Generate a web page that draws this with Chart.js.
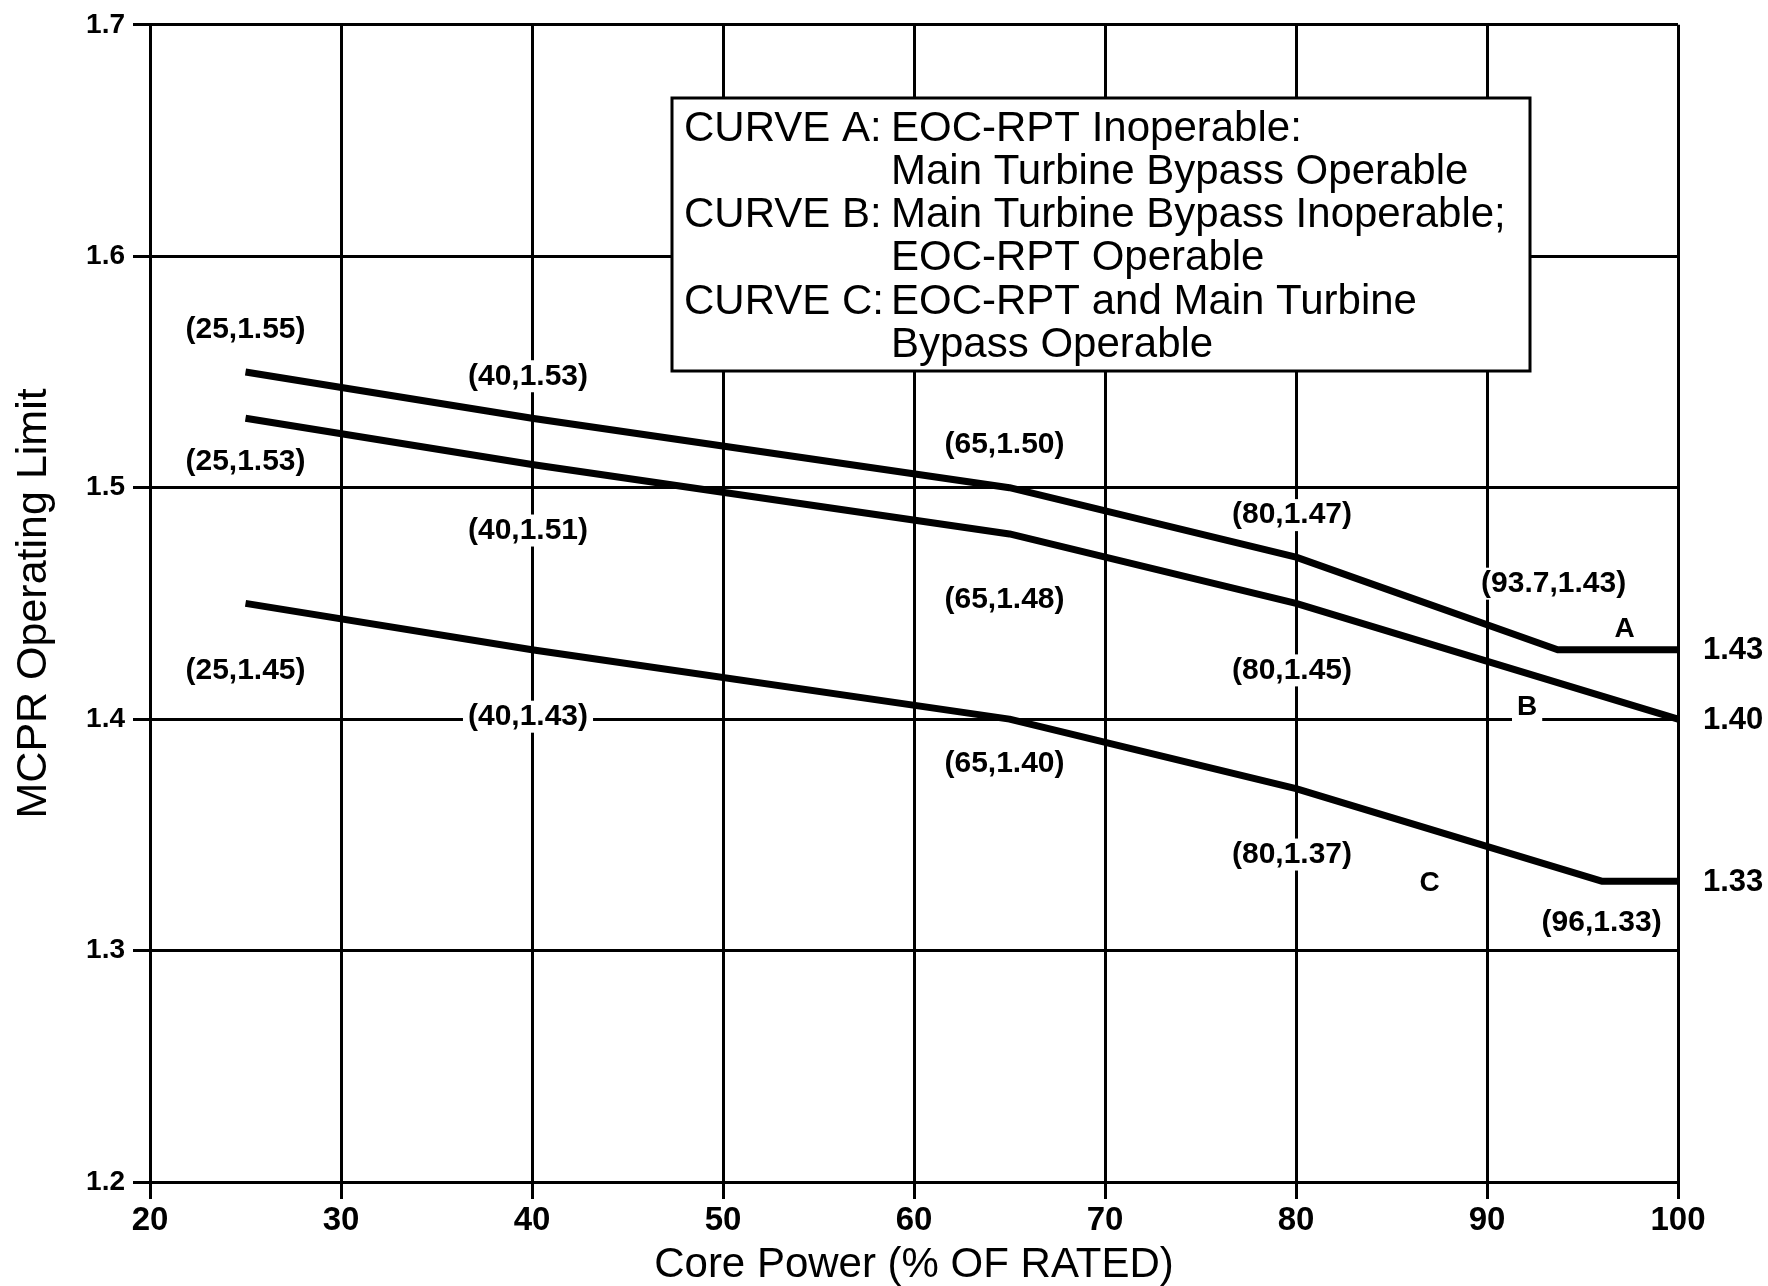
<!DOCTYPE html>
<html>
<head>
<meta charset="utf-8">
<script src="https://cdn.jsdelivr.net/npm/chart.js@4.4.1/dist/chart.umd.min.js"></script>
<style>
body { margin: 0; background: white; }
</style>
</head>
<body>
<canvas id="myChart" width="1768" height="1286"></canvas>
<script>
// tick values
const xTicks = [20, 30, 40, 50, 60, 70, 80, 90, 100];
const yTicks = [1.2, 1.3, 1.4, 1.5, 1.6, 1.7];

// curves: core power (%) vs MCPR limit
const powerA = [25, 40, 65, 80, 93.7, 100];
const limitA = [1.55, 1.53, 1.50, 1.47, 1.43, 1.43];
const powerB = [25, 40, 65, 80, 100];
const limitB = [1.53, 1.51, 1.48, 1.45, 1.40];
const powerC = [25, 40, 65, 80, 96, 100];
const limitC = [1.45, 1.43, 1.40, 1.37, 1.33, 1.33];

const curveNames = ['A', 'B', 'C'];

const legendLines = [
    ['CURVE A:', 'EOC-RPT Inoperable:'],
    ['', 'Main Turbine Bypass Operable'],
    ['CURVE B:', 'Main Turbine Bypass Inoperable;'],
    ['', 'EOC-RPT Operable'],
    ['CURVE C:', 'EOC-RPT and Main Turbine'],
    ['', 'Bypass Operable']
];

// label placement (pixel offsets from each point, null = no label)
const labelOffsets = [
    [[0, -42], [-4, -42], [-5, -43], [-4, -42], [-4, -66], null],
    [[0, 43], [-4, 66], [-5, 66], [-4, 67], null],
    [[0, 67], [-4, 67], [-5, 45], [-4, 66], [0, 42], null]
];
// where the curve letters sit (data coords)
const letterSpots = [[97.2, 1.439], [92.1, 1.405], [87.0, 1.329]];

const FONT = '"Liberation Sans", Arial, sans-serif';

function pts(xs, ys) {
    return xs.map((x, i) => ({ x: x, y: ys[i] }));
}

function textWithBg(ctx, text, x, y) {
    const w = ctx.measureText(text).width;
    ctx.fillStyle = 'white';
    ctx.fillRect(x - w / 2 - 5, y - 16, w + 10, 32);
    ctx.fillStyle = 'black';
    ctx.fillText(text, x, y);
}

const annotations = {
    id: 'annotations',
    afterDatasetsDraw: (chart) => {
        const ctx = chart.ctx;
        const xs = chart.scales.x;
        const ys = chart.scales.y;
        const area = chart.chartArea;
        ctx.save();
        ctx.textAlign = 'center';
        ctx.textBaseline = 'middle';

        // coordinate labels
        ctx.font = 'bold 30px ' + FONT;
        chart.data.datasets.forEach((ds, d) => {
            ds.data.forEach((p, i) => {
                const off = labelOffsets[d][i];
                if (!off) return;
                const txt = '(' + p.x + ',' + p.y.toFixed(2) + ')';
                textWithBg(ctx, txt, xs.getPixelForValue(p.x) + off[0], ys.getPixelForValue(p.y) + off[1]);
            });
        });

        // curve letters
        ctx.font = 'bold 28px ' + FONT;
        letterSpots.forEach((s, d) => {
            textWithBg(ctx, curveNames[d], xs.getPixelForValue(s[0]), ys.getPixelForValue(s[1]));
        });

        // end values right of the plot
        ctx.font = 'bold 31px ' + FONT;
        ctx.textAlign = 'left';
        chart.data.datasets.forEach((ds) => {
            const last = ds.data[ds.data.length - 1];
            ctx.fillText(last.y.toFixed(2), area.right + 25, ys.getPixelForValue(last.y) + 1);
        });

        // legend box
        const bx = 672, by = 98, bw = 858, bh = 273;
        ctx.fillStyle = 'white';
        ctx.fillRect(bx, by, bw, bh);
        ctx.strokeStyle = 'black';
        ctx.lineWidth = 3;
        ctx.strokeRect(bx, by, bw, bh);
        ctx.fillStyle = 'black';
        ctx.font = '42px ' + FONT;
        legendLines.forEach((ln, i) => {
            const ty = 129 + i * 43.3;
            ctx.fillText(ln[0], 684, ty);
            ctx.fillText(ln[1], 891, ty);
        });
        ctx.restore();
    }
};

const ctx = document.getElementById('myChart').getContext('2d');
const myChart = new Chart(ctx, {
    type: 'line',
    data: {
        datasets: [
            { label: 'A', data: pts(powerA, limitA) },
            { label: 'B', data: pts(powerB, limitB) },
            { label: 'C', data: pts(powerC, limitC) }
        ].map(ds => Object.assign(ds, {
            borderColor: 'black',
            borderWidth: 7,
            pointRadius: 0,
            tension: 0,
            fill: false,
            clip: false,
            borderJoinStyle: 'round'
        }))
    },
    options: {
        responsive: false,
        animation: false,
        layout: { padding: { top: 23, right: 90, left: 0, bottom: 0 } },
        plugins: {
            legend: { display: false },
            tooltip: { enabled: false }
        },
        scales: {
            x: {
                type: 'linear',
                min: 20,
                max: 100,
                afterBuildTicks: (s) => { s.ticks = xTicks.map(v => ({ value: v })); },
                afterFit: (s) => { s.height = 104; },
                grid: { color: 'black', lineWidth: 3, tickLength: 17, tickColor: 'black', tickWidth: 3 },
                border: { color: 'black', width: 3 },
                ticks: {
                    color: 'black',
                    padding: 2,
                    maxRotation: 0,
                    font: { family: FONT, size: 33, weight: 'bold' }
                },
                title: {
                    display: true,
                    text: 'Core Power (% OF RATED)',
                    color: 'black',
                    font: { family: FONT, size: 42, lineHeight: 1 },
                    padding: { top: 0, bottom: 0 }
                }
            },
            y: {
                type: 'linear',
                min: 1.2,
                max: 1.7,
                afterBuildTicks: (s) => { s.ticks = yTicks.map(v => ({ value: v })); },
                afterFit: (s) => { s.width = 150; },
                grid: { color: 'black', lineWidth: 3, tickLength: 17, tickColor: 'black', tickWidth: 3 },
                border: { color: 'black', width: 3 },
                ticks: {
                    color: 'black',
                    padding: 8,
                    font: { family: FONT, size: 28, weight: 'bold' },
                    callback: (v) => v.toFixed(1)
                },
                title: {
                    display: true,
                    text: 'MCPR Operating Limit',
                    color: 'black',
                    font: { family: FONT, size: 43 },
                    padding: { top: 8, bottom: 0 }
                }
            }
        }
    },
    plugins: [annotations, {
        id: 'background-colour',
        beforeDraw: (chart) => {
            const c = chart.ctx;
            c.save();
            c.fillStyle = 'white';
            c.fillRect(0, 0, chart.width, chart.height);
            c.restore();
        }
    }]
});
</script>
</body>
</html>
